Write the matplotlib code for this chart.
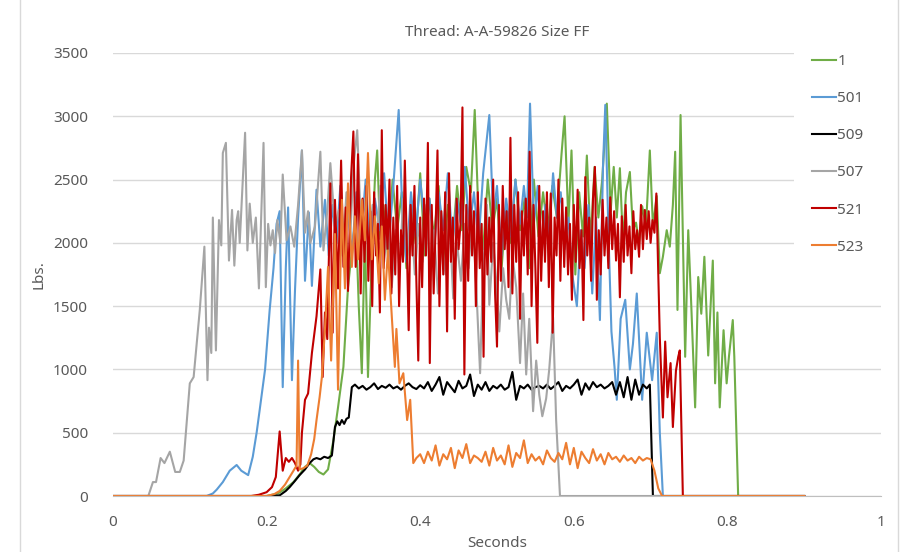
import numpy as np
import matplotlib.pyplot as plt
from matplotlib.lines import Line2D

# thread pull-out traces, (seconds, lbs)
s1 = [(0, 0), (0.2, 0), (0.215, 20), (0.225, 60), (0.235, 110), (0.243, 170), (0.25, 230),
      (0.256, 260), (0.262, 230), (0.268, 190), (0.274, 170), (0.28, 210), (0.287, 440),
      (0.293, 700), (0.3, 1020), (0.306, 1650), (0.311, 1940), (0.316, 2200), (0.32, 1500),
      (0.324, 970), (0.328, 2100), (0.332, 940), (0.337, 1900), (0.341, 2500), (0.344, 2730),
      (0.348, 2030), (0.352, 2300), (0.358, 1900), (0.364, 2500), (0.37, 2100), (0.376, 2400),
      (0.382, 1800), (0.388, 2300), (0.394, 2000), (0.4, 2550), (0.406, 1900), (0.412, 2350),
      (0.418, 2050), (0.424, 2450), (0.43, 1850), (0.436, 2300), (0.442, 2000), (0.448, 2450),
      (0.454, 2100), (0.46, 2600), (0.466, 2400), (0.471, 3050), (0.476, 2200), (0.482, 1950),
      (0.488, 2500), (0.494, 2100), (0.5, 2350), (0.506, 1800), (0.512, 2300), (0.518, 2000),
      (0.524, 2500), (0.53, 2100), (0.536, 2350), (0.542, 1800), (0.548, 2500), (0.554, 2050),
      (0.56, 2400), (0.566, 2100), (0.572, 2450), (0.578, 2200), (0.584, 2700), (0.588, 3000),
      (0.593, 2150), (0.597, 2730), (0.602, 1750), (0.607, 2400), (0.612, 2050), (0.617, 2690),
      (0.622, 2000), (0.627, 2600), (0.632, 2200), (0.637, 2500), (0.643, 3100), (0.648, 2250),
      (0.652, 2600), (0.656, 2200), (0.66, 2590), (0.664, 2000), (0.668, 2400), (0.673, 2560),
      (0.677, 2100), (0.681, 2160), (0.685, 2000), (0.689, 2290), (0.694, 2130), (0.699, 2730),
      (0.703, 2130), (0.708, 2370), (0.712, 1760), (0.716, 1890), (0.721, 2100), (0.725, 1970),
      (0.729, 2300), (0.732, 2720), (0.735, 1470), (0.739, 3010), (0.745, 1100), (0.749, 2100),
      (0.753, 1500), (0.758, 700), (0.762, 1730), (0.766, 1440), (0.77, 1890), (0.775, 1110),
      (0.781, 1860), (0.784, 890), (0.787, 1450), (0.79, 700), (0.795, 1310), (0.799, 890),
      (0.802, 1100), (0.807, 1390), (0.809, 1100), (0.814, 0), (0.9, 0)]

s501 = [(0, 0), (0.122, 0), (0.13, 20), (0.135, 50), (0.143, 110), (0.152, 200), (0.161, 245),
        (0.167, 200), (0.176, 165), (0.182, 310), (0.187, 500), (0.191, 680), (0.198, 1000),
        (0.204, 1470), (0.209, 1800), (0.213, 2150), (0.217, 2250), (0.221, 860), (0.225, 1800),
        (0.228, 2280), (0.233, 915), (0.237, 1630), (0.241, 2200), (0.246, 2730), (0.25, 1700),
        (0.255, 2240), (0.259, 1660), (0.265, 2420), (0.27, 1970), (0.276, 2340), (0.281, 1900),
        (0.286, 2300), (0.291, 2000), (0.296, 2450), (0.301, 1950), (0.306, 2300), (0.311, 1900),
        (0.317, 2400), (0.323, 2050), (0.329, 2500), (0.335, 1950), (0.341, 2350), (0.347, 2100),
        (0.353, 2550), (0.359, 2000), (0.365, 2450), (0.372, 3050), (0.377, 2200), (0.382, 1850),
        (0.388, 2400), (0.394, 2050), (0.4, 2500), (0.406, 2150), (0.412, 2350), (0.418, 1950),
        (0.424, 2400), (0.43, 2100), (0.436, 2550), (0.442, 2000), (0.448, 2350), (0.453, 2150),
        (0.458, 2600), (0.464, 2100), (0.47, 2400), (0.476, 2000), (0.482, 2550), (0.49, 3010),
        (0.495, 2200), (0.5, 2450), (0.506, 1900), (0.512, 2350), (0.518, 2050), (0.524, 2500),
        (0.53, 2150), (0.535, 2450), (0.539, 2200), (0.543, 3100), (0.548, 2150), (0.553, 2450),
        (0.558, 1900), (0.563, 2300), (0.568, 2050), (0.573, 2550), (0.578, 2200), (0.583, 2400),
        (0.588, 1950), (0.593, 2200), (0.598, 1750), (0.604, 1500), (0.609, 2100), (0.614, 1800),
        (0.619, 2300), (0.624, 1600), (0.629, 2200), (0.634, 1390), (0.638, 2600), (0.641, 3090),
        (0.645, 2100), (0.649, 1300), (0.653, 1020), (0.656, 760), (0.661, 1400), (0.667, 1550),
        (0.673, 1000), (0.677, 1200), (0.682, 1600), (0.689, 760), (0.695, 1290), (0.702, 915),
        (0.708, 1290), (0.712, 500), (0.716, 0), (0.9, 0)]

s509 = [(0, 0), (0.205, 0), (0.217, 5), (0.225, 40), (0.23, 70), (0.237, 120), (0.243, 165),
        (0.25, 210), (0.256, 260), (0.261, 290), (0.265, 300), (0.27, 290), (0.275, 310),
        (0.28, 300), (0.285, 320), (0.289, 545), (0.292, 590), (0.295, 560), (0.298, 600),
        (0.301, 570), (0.304, 610), (0.307, 620), (0.311, 860), (0.315, 880), (0.32, 850),
        (0.325, 870), (0.33, 840), (0.335, 860), (0.34, 890), (0.345, 845), (0.35, 870),
        (0.355, 855), (0.36, 880), (0.365, 850), (0.37, 865), (0.375, 840), (0.38, 870),
        (0.385, 890), (0.39, 860), (0.395, 845), (0.4, 875), (0.405, 850), (0.41, 900),
        (0.415, 830), (0.42, 880), (0.425, 940), (0.43, 800), (0.435, 900), (0.44, 860),
        (0.445, 820), (0.45, 910), (0.455, 850), (0.46, 870), (0.465, 960), (0.47, 790),
        (0.475, 880), (0.48, 840), (0.485, 900), (0.49, 830), (0.495, 870), (0.5, 850),
        (0.505, 880), (0.51, 840), (0.515, 860), (0.52, 980), (0.525, 760), (0.53, 870),
        (0.535, 850), (0.54, 880), (0.545, 840), (0.55, 860), (0.555, 870), (0.56, 850),
        (0.565, 880), (0.57, 845), (0.575, 870), (0.58, 900), (0.585, 830), (0.59, 870),
        (0.595, 850), (0.6, 880), (0.605, 920), (0.61, 800), (0.615, 890), (0.62, 840),
        (0.625, 900), (0.63, 860), (0.635, 880), (0.64, 850), (0.645, 870), (0.65, 900),
        (0.655, 800), (0.66, 900), (0.665, 780), (0.67, 940), (0.675, 760), (0.68, 920),
        (0.685, 800), (0.69, 880), (0.695, 850), (0.699, 880), (0.703, 0), (0.9, 0)]

s507 = [(0, 0), (0.046, 0), (0.052, 110), (0.056, 110), (0.062, 300), (0.067, 260), (0.074, 350),
        (0.081, 190), (0.087, 190), (0.092, 280), (0.1, 890), (0.105, 940), (0.113, 1470),
        (0.119, 1970), (0.123, 915), (0.125, 1330), (0.128, 1130), (0.13, 2200), (0.134, 1150),
        (0.138, 2180), (0.141, 1980), (0.143, 2710), (0.147, 2790), (0.151, 1860), (0.155, 2260),
        (0.158, 1820), (0.161, 2180), (0.163, 2250), (0.165, 2000), (0.172, 2870), (0.175, 1940),
        (0.178, 2310), (0.182, 2000), (0.186, 2200), (0.19, 1640), (0.196, 2790), (0.199, 1650),
        (0.202, 2150), (0.205, 1980), (0.208, 2100), (0.211, 1920), (0.214, 2180), (0.218, 2000),
        (0.221, 2540), (0.226, 2020), (0.231, 2130), (0.236, 1970), (0.241, 2300), (0.246, 2730),
        (0.25, 2080), (0.254, 2250), (0.257, 2000), (0.263, 2130), (0.27, 2720), (0.274, 1940),
        (0.279, 2250), (0.283, 2630), (0.289, 2130), (0.294, 2260), (0.299, 1900), (0.304, 2400),
        (0.309, 2050), (0.313, 2600), (0.318, 2890), (0.323, 2100), (0.328, 2350), (0.333, 1900),
        (0.338, 2300), (0.343, 2000), (0.348, 2450), (0.353, 1850), (0.358, 2200), (0.363, 1650),
        (0.368, 2100), (0.373, 1800), (0.378, 2350), (0.383, 1900), (0.388, 2250), (0.393, 1750),
        (0.398, 2150), (0.403, 1850), (0.408, 2300), (0.413, 1700), (0.418, 2100), (0.423, 1600),
        (0.428, 2000), (0.433, 1750), (0.438, 2200), (0.443, 1560), (0.448, 2000), (0.453, 1700),
        (0.458, 2150), (0.463, 1800), (0.468, 2250), (0.473, 1650), (0.478, 970), (0.482, 1800),
        (0.487, 2300), (0.49, 1510), (0.495, 2000), (0.499, 1700), (0.503, 1300), (0.508, 1800),
        (0.512, 1550), (0.516, 1400), (0.52, 1900), (0.525, 1650), (0.53, 1050), (0.534, 1600),
        (0.538, 960), (0.542, 1400), (0.547, 670), (0.551, 1070), (0.555, 800), (0.559, 630),
        (0.564, 770), (0.568, 1000), (0.573, 1410), (0.577, 600), (0.582, 0), (0.9, 0)]

s521 = [(0, 0), (0.18, 0), (0.19, 10), (0.2, 30), (0.207, 70), (0.212, 150), (0.217, 510),
        (0.221, 200), (0.225, 300), (0.229, 270), (0.233, 300), (0.237, 260), (0.241, 200),
        (0.244, 250), (0.246, 500), (0.25, 760), (0.254, 810), (0.259, 1130), (0.265, 1420),
        (0.27, 1790), (0.273, 940), (0.276, 1450), (0.279, 1240), (0.283, 2470), (0.286, 1290),
        (0.289, 2340), (0.293, 1640), (0.297, 2650), (0.3, 1810), (0.303, 2280), (0.306, 1620),
        (0.31, 2520), (0.313, 2880), (0.316, 1810), (0.319, 2700), (0.3225, 1600), (0.325, 2350),
        (0.3275, 1850), (0.33, 2450), (0.3325, 1700), (0.335, 2250), (0.3375, 1500), (0.34, 2400),
        (0.3425, 1900), (0.345, 2150), (0.3475, 1450), (0.35, 2890), (0.3525, 1800), (0.355, 2300),
        (0.3575, 1950), (0.36, 2500), (0.3625, 1600), (0.365, 2200), (0.3675, 1750), (0.37, 2450),
        (0.3725, 1500), (0.375, 2100), (0.3775, 1850), (0.38, 2650), (0.3825, 2000), (0.385, 1310),
        (0.3875, 2300), (0.39, 1900), (0.3925, 2450), (0.395, 1700), (0.3975, 1070), (0.4, 2200),
        (0.4025, 1650), (0.405, 2350), (0.4075, 1900), (0.41, 2790), (0.4125, 1050), (0.415, 2300),
        (0.4175, 1600), (0.42, 2100), (0.4225, 2730), (0.425, 1500), (0.4275, 2250), (0.43, 1750),
        (0.4325, 2400), (0.435, 1300), (0.4375, 2550), (0.44, 1850), (0.4425, 2200), (0.445, 1400),
        (0.4475, 2350), (0.45, 1950), (0.4525, 2150), (0.455, 3070), (0.4575, 960), (0.46, 2300),
        (0.4625, 1700), (0.465, 2450), (0.4675, 1900), (0.47, 2250), (0.4725, 1500), (0.475, 2400),
        (0.4775, 1800), (0.48, 2150), (0.4825, 1100), (0.485, 2350), (0.4875, 1750), (0.49, 2200),
        (0.4925, 1850), (0.495, 2500), (0.4975, 1600), (0.5, 1180), (0.5025, 2300), (0.505, 1700),
        (0.5075, 2450), (0.51, 1950), (0.5125, 2250), (0.515, 1650), (0.5175, 2830), (0.52, 1600),
        (0.5225, 2300), (0.525, 1850), (0.5275, 2400), (0.53, 1400), (0.5325, 2250), (0.535, 1900),
        (0.5375, 2350), (0.54, 1750), (0.5425, 2720), (0.545, 1500), (0.5475, 2300), (0.55, 1800),
        (0.5525, 1210), (0.555, 2450), (0.5575, 1700), (0.56, 2250), (0.5625, 1850), (0.565, 2400),
        (0.5675, 1650), (0.57, 2390), (0.5725, 1290), (0.575, 2200), (0.5775, 1900), (0.58, 2500),
        (0.5825, 1700), (0.585, 2350), (0.5875, 1810), (0.59, 2280), (0.5925, 1750), (0.595, 2150),
        (0.5975, 1550), (0.6, 2300), (0.6025, 1850), (0.605, 2420), (0.6075, 1800), (0.61, 2100),
        (0.6125, 1390), (0.615, 2520), (0.6175, 1900), (0.62, 2200), (0.6225, 1700), (0.625, 2350),
        (0.6275, 2600), (0.63, 1550), (0.6325, 2100), (0.635, 1750), (0.6375, 2340), (0.64, 1900),
        (0.6425, 2200), (0.645, 1800), (0.6475, 2360), (0.65, 1950), (0.6525, 2250), (0.655, 1860),
        (0.6575, 2150), (0.66, 1570), (0.6625, 2210), (0.665, 1850), (0.6675, 2300), (0.67, 1900),
        (0.6725, 2130), (0.675, 1760), (0.6775, 2250), (0.68, 1950), (0.6825, 2100), (0.685, 1890),
        (0.6875, 2300), (0.69, 1950), (0.6925, 2260), (0.695, 2030), (0.6975, 2250), (0.7, 2000),
        (0.7025, 2180), (0.705, 2080), (0.7075, 2390), (0.712, 1250), (0.716, 620), (0.719, 1220),
        (0.722, 780), (0.726, 1050), (0.729, 545), (0.733, 990), (0.736, 1100), (0.738, 1150),
        (0.742, 0), (0.9, 0)]

s523 = [(0, 0), (0.2, 0), (0.21, 15), (0.217, 40), (0.224, 90), (0.23, 150), (0.235, 200),
        (0.239, 240), (0.241, 1070), (0.243, 210), (0.248, 220), (0.253, 240), (0.258, 330),
        (0.262, 450), (0.265, 600), (0.269, 780), (0.272, 940), (0.276, 1320), (0.28, 1810),
        (0.284, 1070), (0.289, 2070), (0.293, 840), (0.298, 2340), (0.302, 1640), (0.306, 2470),
        (0.311, 1810), (0.315, 2210), (0.319, 1870), (0.324, 2340), (0.328, 2020), (0.332, 2710),
        (0.337, 1870), (0.341, 2210), (0.346, 1680), (0.35, 2130), (0.354, 1550), (0.358, 1940),
        (0.363, 1420), (0.367, 1020), (0.369, 1320), (0.373, 890), (0.378, 970), (0.383, 600),
        (0.387, 760), (0.391, 260), (0.395, 300), (0.4, 330), (0.405, 260), (0.41, 350),
        (0.415, 280), (0.42, 400), (0.425, 240), (0.43, 330), (0.435, 290), (0.44, 380),
        (0.445, 220), (0.45, 360), (0.455, 300), (0.46, 410), (0.465, 260), (0.47, 320),
        (0.475, 300), (0.48, 270), (0.485, 350), (0.49, 240), (0.495, 380), (0.5, 280),
        (0.505, 320), (0.51, 250), (0.515, 400), (0.52, 230), (0.525, 340), (0.53, 300),
        (0.535, 440), (0.54, 260), (0.545, 330), (0.55, 280), (0.555, 310), (0.56, 250),
        (0.565, 360), (0.57, 300), (0.575, 270), (0.58, 340), (0.585, 290), (0.59, 420),
        (0.595, 250), (0.6, 380), (0.605, 220), (0.61, 350), (0.615, 300), (0.62, 260),
        (0.625, 370), (0.63, 280), (0.635, 330), (0.64, 250), (0.645, 340), (0.65, 290),
        (0.655, 310), (0.66, 270), (0.665, 320), (0.67, 280), (0.675, 300), (0.68, 260),
        (0.685, 310), (0.69, 280), (0.695, 300), (0.7, 290), (0.705, 200), (0.71, 60),
        (0.715, 0), (0.9, 0)]

labels = ['1', '501', '509', '507', '521', '523']
colors = ['#70ad47', '#5b9bd5', '#000000', '#a5a5a5', '#c00000', '#ed7d31']
series = [s1, s501, s509, s507, s521, s523]

grey = '#595959'
plt.rcParams['font.family'] = ['Noto Sans', 'DejaVu Sans']

fig = plt.figure(figsize=(9.1, 5.52), dpi=100)
ax = fig.add_axes([113 / 910, 1 - 496 / 552, 768 / 910, 443 / 552])

for pts, lab, col in zip(series, labels, colors):
    t = np.array([p[0] for p in pts])
    v = np.array([p[1] for p in pts])
    ax.plot(t, v, color=col, lw=1.5, label=lab, solid_joinstyle='round')

ax.set_xlim(0, 1)
ax.set_ylim(0, 3500)
ax.set_yticks(np.arange(0, 3501, 500))
ax.set_xticks([0, 0.2, 0.4, 0.6, 0.8, 1])
ax.set_xticklabels(['0', '0.2', '0.4', '0.6', '0.8', '1'])
ax.grid(axis='y', color='#d9d9d9', lw=1)
ax.set_axisbelow(True)
for s in ['top', 'right', 'left']:
    ax.spines[s].set_visible(False)
ax.spines['bottom'].set_color('#bfbfbf')
ax.tick_params(length=0, labelsize=11, labelcolor=grey)
ax.tick_params(axis='y', pad=18)
ax.tick_params(axis='x', pad=14)

ax.set_title('Thread: A-A-59826 Size FF', fontsize=11, color=grey, pad=12)
ax.set_xlabel('Seconds', fontsize=11, color=grey, labelpad=4)
ax.set_ylabel('Lbs.', fontsize=11, color=grey, labelpad=5)

leg = ax.legend(loc='upper left', bbox_to_anchor=(786 / 910, 1 - 28 / 552),
                bbox_transform=fig.transFigure, frameon=True, fancybox=False,
                facecolor='white', edgecolor='none', framealpha=1, fontsize=11,
                handlelength=1.6, handletextpad=0.05, labelspacing=1.45, borderpad=1.2)
for txt in leg.get_texts():
    txt.set_color(grey)

# chart area border
fig.add_artist(Line2D([20 / 910, 20 / 910], [0, 1], color='#d9d9d9', lw=1))
fig.add_artist(Line2D([898 / 910, 898 / 910], [0, 1], color='#d9d9d9', lw=1))

fig.savefig('out.png', dpi=100)
